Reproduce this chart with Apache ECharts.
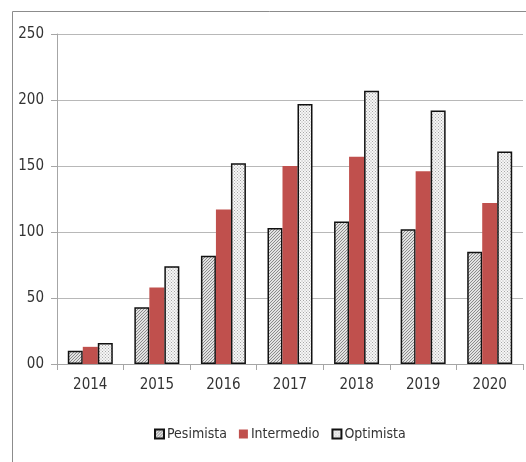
<!DOCTYPE html>
<html>
<head>
<meta charset="utf-8">
<script src="https://cdn.jsdelivr.net/npm/echarts@6/dist/echarts.min.js"></script>
<style>
  html, body { margin: 0; padding: 0; background: #fff; }
  #chart { width: 526px; height: 462px; }
</style>
</head>
<body>
<div id="chart"></div>
<script>
const years = ["2014", "2015", "2016", "2017", "2018", "2019", "2020"];
const pesimista = [10, 43, 82, 103, 108, 102, 85];
const intermedio = [13, 58, 117, 150, 157, 146, 122];
const optimista = [16, 74, 152, 197, 207, 192, 161];

const FONT = "'Liberation Sans Narrow', 'DejaVu Sans Condensed', sans-serif";

// hatch pattern for Pesimista
function hatch() {
  const c = document.createElement("canvas");
  c.width = 3;
  c.height = 3;
  const ctx = c.getContext("2d");
  ctx.fillStyle = "#e2e2e2";
  ctx.fillRect(0, 0, 3, 3);
  ctx.fillStyle = "#8a8a8a";
  ctx.fillRect(2, 0, 1, 1);
  ctx.fillRect(1, 1, 1, 1);
  ctx.fillRect(0, 2, 1, 1);
  return c;
}

// dotted pattern for Optimista
function dots() {
  const c = document.createElement("canvas");
  c.width = 3;
  c.height = 3;
  const ctx = c.getContext("2d");
  ctx.fillStyle = "#f6f6f6";
  ctx.fillRect(0, 0, 3, 3);
  ctx.fillStyle = "#a8a8a8";
  ctx.fillRect(0, 0, 1, 1);
  ctx.fillRect(1.5, 1.5, 1, 1);
  return c;
}

const chart = echarts.init(document.getElementById("chart"));
chart.setOption({
  animation: false,
  textStyle: { fontFamily: FONT },
  graphic: [
    {
      type: "rect",
      shape: { x: 12.5, y: 11.5, width: 600, height: 600 },
      style: { fill: "none", stroke: "#8c8c8c", lineWidth: 1 },
      silent: true,
      z: -1
    }
  ],
  grid: { left: 57, right: 3, top: 34, bottom: 98 },
  legend: {
    bottom: 16,
    left: 149,
    itemWidth: 9,
    itemHeight: 9,
    itemGap: 12,
    icon: "rect",
    textStyle: { fontFamily: FONT, fontSize: 14, color: "#333", padding: [0, 0, 0, -2] },
    data: ["Pesimista", "Intermedio", "Optimista"]
  },
  xAxis: {
    type: "category",
    data: years,
    axisLine: { lineStyle: { color: "#a6a6a6" } },
    axisTick: { show: true, length: 6, lineStyle: { color: "#a6a6a6" } },
    axisLabel: { color: "#333", fontSize: 15, margin: 14, fontFamily: FONT }
  },
  yAxis: {
    type: "value",
    min: 0,
    max: 250,
    interval: 50,
    axisLine: { show: true, lineStyle: { color: "#a6a6a6" } },
    axisTick: { show: true, length: 6, lineStyle: { color: "#a6a6a6" } },
    splitLine: { lineStyle: { color: "#b8b8b8" } },
    axisLabel: {
      color: "#333",
      fontSize: 15,
      margin: 13,
      fontFamily: FONT,
      formatter: v => (v === 0 ? "00" : String(v))
    }
  },
  series: [
    {
      name: "Pesimista",
      type: "bar",
      data: pesimista,
      barWidth: 15,
      barGap: "0%",
      itemStyle: { color: { image: hatch(), repeat: "repeat" }, borderColor: "#111", borderWidth: 1.5 }
    },
    {
      name: "Intermedio",
      type: "bar",
      data: intermedio,
      barWidth: 15,
      itemStyle: { color: "#c0504d" }
    },
    {
      name: "Optimista",
      type: "bar",
      data: optimista,
      barWidth: 15,
      itemStyle: { color: { image: dots(), repeat: "repeat" }, borderColor: "#111", borderWidth: 1.5 }
    }
  ]
});
</script>
</body>
</html>
